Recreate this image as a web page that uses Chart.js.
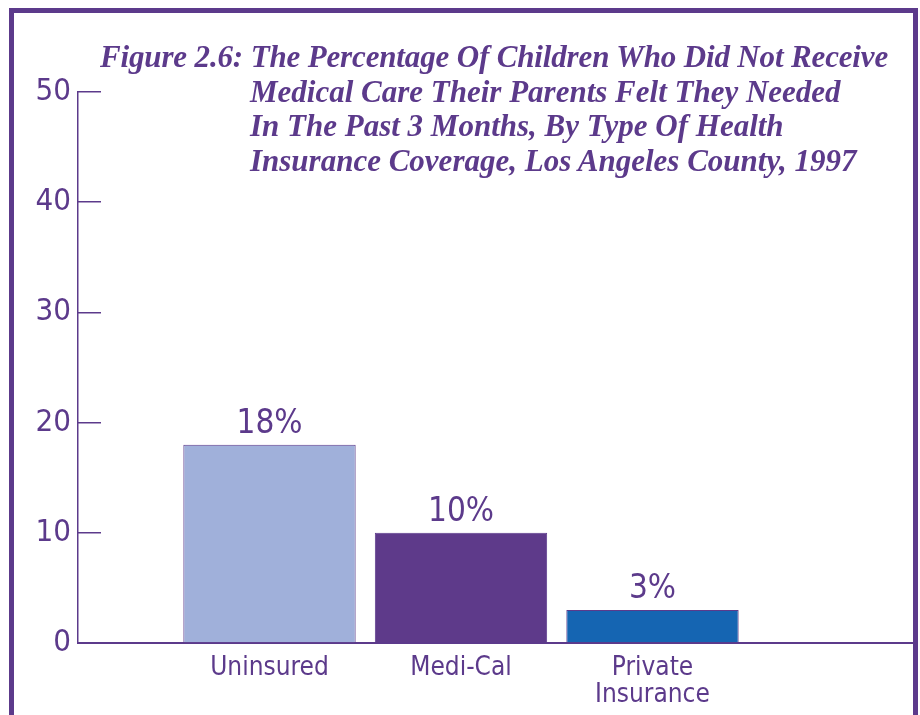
<!DOCTYPE html>
<html>
<head>
<meta charset="utf-8">
<script src="https://cdn.jsdelivr.net/npm/chart.js@4"></script>
<style>
  html, body { margin: 0; padding: 0; background: #fff; overflow: hidden; }
  #wrap { position: relative; width: 920px; height: 715px; }
  #myChart { position: absolute; left: 0; top: 0; }
  #frame {
    position: absolute; left: 9px; top: 8px; width: 899px; height: 800px;
    border: 5px solid #5c3a8b; pointer-events: none;
  }
  #title {
    position: absolute; left: 250px; top: 40px;
    font: italic bold 31px 'Liberation Serif', serif;
    line-height: 34.7px; color: #5c3a8b;
    text-indent: -150px; white-space: nowrap;
  }
  #title .first { letter-spacing: -0.15px; }
</style>
</head>
<body>
<div id="wrap">
  <canvas id="myChart" width="920" height="715"></canvas>
  <div id="frame"></div>
  <div id="title"><span class="first">Figure 2.6: The Percentage Of Children Who Did Not Receive</span><br>Medical Care Their Parents Felt They Needed<br>In The Past 3 Months, By Type Of Health<br>Insurance Coverage, Los Angeles County, 1997</div>
</div>
<script>
// data
const categories = ['Uninsured', 'Medi-Cal', ['Private', 'Insurance']];
const values = [18, 10, 3];
const barColors = ['#a0b0da', '#5e3a8a', '#1565b2'];
const yTicks = [0, 10, 20, 30, 40, 50];

const purple = '#5c3a8b';
const narrow = "'DejaVu Sans Condensed', 'DejaVu Sans', sans-serif";

// value labels above bars
const barLabels = {
  id: 'barLabels',
  afterDatasetsDraw(chart) {
    const ctx = chart.ctx;
    const meta = chart.getDatasetMeta(0);
    ctx.save();
    ctx.fillStyle = purple;
    ctx.font = '33px ' + narrow;
    ctx.textAlign = 'center';
    ctx.textBaseline = 'alphabetic';
    meta.data.forEach(function (bar, i) {
      ctx.fillText(values[i] + '%', bar.x, bar.y - 12);
    });
    ctx.restore();
  }
};

const ctx = document.getElementById('myChart');
const myChart = new Chart(ctx, {
  type: 'bar',
  data: {
    datasets: [{
      data: values.map(function (v, i) { return { x: i + 1, y: v }; }),
      backgroundColor: barColors,
      borderColor: purple,
      borderWidth: 1,
      categoryPercentage: 1,
      barPercentage: 0.9,
    }]
  },
  options: {
    responsive: false,
    animation: false,
    layout: {
      padding: { top: 92, right: 4, left: 0, bottom: 0 }
    },
    scales: {
      x: {
        type: 'linear',
        offset: false,
        min: 0,
        max: 4.376,
        afterBuildTicks: function (scale) {
          scale.ticks = categories.map(function (c, i) { return { value: i + 1 }; });
        },
        afterFit: function (scale) { scale.height = 72; },
        ticks: {
          autoSkip: false,
          maxRotation: 0,
          padding: 4,
          color: purple,
          font: { family: narrow, size: 26, lineHeight: 1.04 },
          callback: function (val) { return categories[val - 1]; }
        },
        grid: { display: false },
        border: { display: true, color: purple, width: 2 }
      },
      y: {
        min: 0,
        max: 50,
        afterBuildTicks: function (scale) {
          scale.ticks = yTicks.map(function (v) { return { value: v }; });
        },
        afterFit: function (scale) { scale.width = 78; },
        ticks: {
          padding: 30,
          color: purple,
          font: { family: narrow, size: 31 }
        },
        grid: {
          drawOnChartArea: false,
          drawTicks: true,
          tickLength: -23,
          color: purple,
          lineWidth: 1.5
        },
        border: { display: true, color: purple, width: 1.5 }
      }
    },
    plugins: {
      legend: { display: false },
      tooltip: { enabled: false }
    }
  },
  plugins: [barLabels]
});
</script>
</body>
</html>
